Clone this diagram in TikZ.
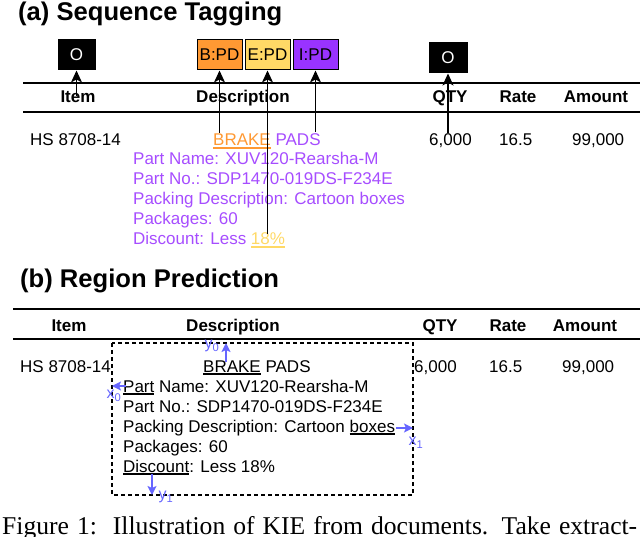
\documentclass[tikz,border=0pt]{standalone}
\usepackage{fontspec}
\setmainfont{Liberation Sans}
\newfontfamily\capfont{Liberation Serif}
\usetikzlibrary{arrows.meta}
\definecolor{tagorange}{RGB}{255,153,51}
\definecolor{tagyellow}{RGB}{255,217,102}
\definecolor{tagpurple}{RGB}{153,51,255}
\definecolor{txtpurple}{RGB}{166,77,255}
\definecolor{bluearr}{RGB}{102,102,255}
\newcommand\myul[1]{\setbox0\hbox{#1}\rlap{\rule[-2.6pt]{\wd0}{1.3pt}}#1}
\tikzset{
  body/.style={font=\fontsize{17}{17}\selectfont, inner sep=0pt},
  bodyw/.style={body, anchor=base west},
  head/.style={font=\fontsize{17}{17}\selectfont\bfseries, inner sep=0pt, anchor=base},
  title/.style={font=\fontsize{25.6}{26}\selectfont\bfseries, inner sep=0pt, anchor=base west},
  rule/.style={line width=1.7pt},
  tagbox/.style={draw=black, line width=1pt, minimum width=45pt, minimum height=30pt, inner sep=0pt, font=\fontsize{17}{17}\selectfont},
  obox/.style={tagbox, fill=black, text=white},
  arr/.style={line width=1.3pt, -{Stealth[length=12pt,width=11pt,inset=3pt]}},
  barr/.style={draw=bluearr, line width=1.5pt, -{Stealth[length=9pt,width=9pt,inset=2pt]}},
  blbl/.style={text=bluearr, font=\fontsize{16}{16}\selectfont, inner sep=0pt},
}
\begin{document}
\begin{tikzpicture}[x=1pt,y=-1pt]
\useasboundingbox (0,0) rectangle (640,537);
% ---------- (a) ----------
\node[title] (ta) at (18,21) {(a) Sequence Tagging};
\node[obox, minimum width=37pt] (oitem) at (76.5,55) {O};
\node[tagbox, fill=tagorange] (bpd) at (219.5,55) {B:PD};
\node[tagbox, fill=tagyellow] (epd) at (267.5,55) {E:PD};
\node[tagbox, fill=tagpurple] (ipd) at (315.5,55) {I:PD};
\node[obox, minimum width=38pt] (oqty) at (448,58) {O};
\coordinate (la1) at (23,83); \coordinate (la1e) at (640,83);
\coordinate (la2) at (23,112); \coordinate (la2e) at (640,112);
\draw[rule] (la1) -- (la1e);
\draw[rule] (la2) -- (la2e);
\node[head] (hia) at (78,103) {Item};
\node[head] (hda) at (243,103) {Description};
\node[head] (hqa) at (450,103) {QTY};
\node[head] (hra) at (518,103) {Rate};
\node[head] (hma) at (596,103) {Amount};
\node[bodyw] (ida) at (30,146) {HS 8708-14};
\node[bodyw] (qa) at (429,146) {6,000};
\node[bodyw] (ra) at (499,146) {16.5};
\node[bodyw] (ma) at (572,146) {99,000};
\node[bodyw] (bpa) at (213,146) {\textcolor{tagorange}{\myul{BRAKE}} \textcolor{txtpurple}{PADS}};
\begin{scope}[every node/.style={bodyw, text=txtpurple}]
\node (pa1) at (133,165) {Part Name: XUV120-Rearsha-M};
\node (pa2) at (133,185) {Part No.: SDP1470-019DS-F234E};
\node (pa3) at (133,205) {Packing Description: Cartoon boxes};
\node (pa4) at (133,225) {Packages: 60};
\node (pa5) at (133,245) {Discount: Less \textcolor{tagyellow}{\myul{18\%}}};
\end{scope}
\coordinate (sitem) at (76.5,96);
\coordinate (sbrake) at (219.5,133);
\coordinate (s18) at (267.5,234);
\coordinate (spads) at (315.5,132);
\coordinate (sqty) at (448,133);
\draw[arr] (sitem) -- (oitem.south);
\draw[arr] (sbrake) -- (bpd.south);
\draw[arr] (s18) -- (epd.south);
\draw[arr] (spads) -- (ipd.south);
\draw[arr] (sqty) -- (oqty.south);
% ---------- (b) ----------
\node[title] (tb) at (20,288) {(b) Region Prediction};
\coordinate (lb1) at (13,309); \coordinate (lb1e) at (640,309);
\coordinate (lb2) at (13,339); \coordinate (lb2e) at (640,339);
\draw[rule] (lb1) -- (lb1e);
\draw[rule] (lb2) -- (lb2e);
\node[head] (hib) at (69,331) {Item};
\node[head] (hdb) at (233,331) {Description};
\node[head] (hqb) at (440,331) {QTY};
\node[head] (hrb) at (508,331) {Rate};
\node[head] (hmb) at (585,331) {Amount};
\node[bodyw] (idb) at (20,372) {HS 8708-14};
\node[bodyw] (qb) at (414,372) {6,000};
\node[bodyw] (rb) at (489,372) {16.5};
\node[bodyw] (mb) at (562,372) {99,000};
\draw[line width=1.3pt, dash pattern=on 4pt off 3pt] (112,343) rectangle (413,495);
\node[bodyw] (bpb) at (203,372) {\myul{BRAKE} PADS};
\node[bodyw] (pb1) at (123,392) {\myul{Part} Name: XUV120-Rearsha-M};
\node[bodyw] (pb2) at (123,412) {Part No.: SDP1470-019DS-F234E};
\node[bodyw] (pb3) at (123,432) {Packing Description: Cartoon \myul{boxes}};
\node[bodyw] (pb4) at (123,452) {Packages: 60};
\node[bodyw] (pb5) at (123,472) {\myul{Discount}: Less 18\%};
\coordinate (y0s) at (226,362); \coordinate (y0e) at (226,343);
\coordinate (x0s) at (126,386); \coordinate (x0e) at (112,386);
\coordinate (x1s) at (396,428); \coordinate (x1e) at (413,428);
\coordinate (y1s) at (152,474); \coordinate (y1e) at (152,495);
\draw[barr] (y0s) -- (y0e);
\draw[barr] (x0s) -- (x0e);
\draw[barr] (x1s) -- (x1e);
\draw[barr] (y1s) -- (y1e);
\node[blbl] (ly0) at (212,346) {y\textsubscript{0}};
\node[blbl] (lx0) at (114,396) {x\textsubscript{0}};
\node[blbl] (lx1) at (416,443) {x\textsubscript{1}};
\node[blbl] (ly1) at (166,497) {y\textsubscript{1}};
% caption
\node[anchor=base west, inner sep=0pt, font=\capfont\fontsize{25.6}{26}\selectfont] (cap) at (2,534) {\hbox to 635pt{Figure 1:\ \ Illustration of KIE from documents. Take extract-}};
\end{tikzpicture}
\end{document}
